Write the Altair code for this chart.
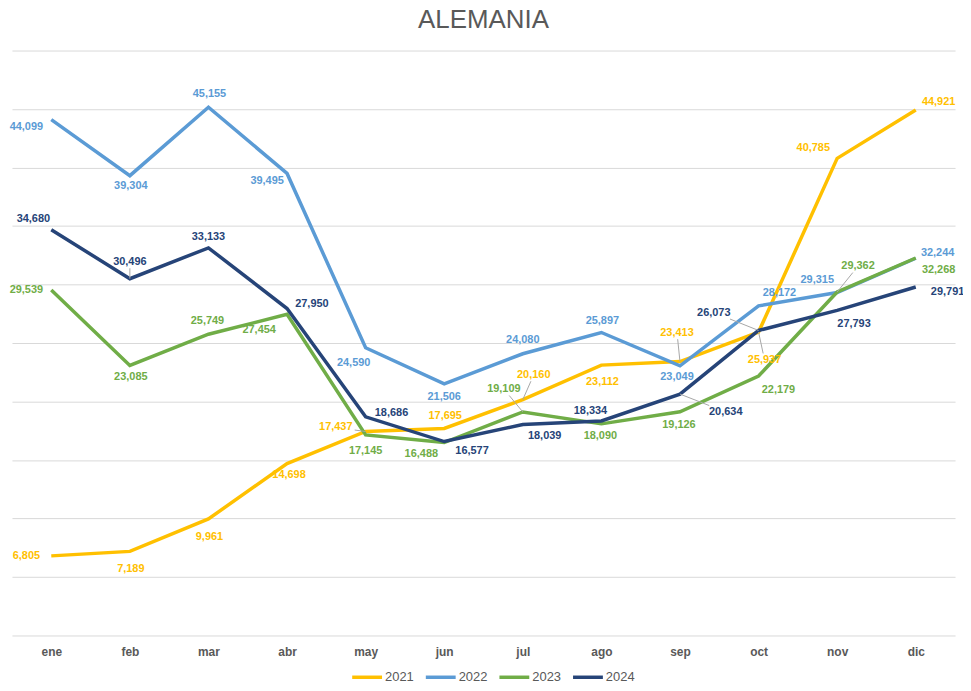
import altair as alt
import pandas as pd

months = ["ene", "feb", "mar", "abr", "may", "jun", "jul", "ago", "sep", "oct", "nov", "dic"]
years = ["2021", "2022", "2023", "2024"]
colors = ["#FFC000", "#5B9BD5", "#70AD47", "#264478"]

v2021 = [6805, 7189, 9961, 14698, 17437, 17695, 20160, 23112, 23413, 25937, 40785, 44921]
v2022 = [44099, 39304, 45155, 39495, 24590, 21506, 24080, 25897, 23049, 28172, 29315, 32244]
v2023 = [29539, 23085, 25749, 27454, 17145, 16488, 19109, 18090, 19126, 22179, 29362, 32268]
v2024 = [34680, 30496, 33133, 27950, 18686, 16577, 18039, 18334, 20634, 26073, 27793, 29791]

# label placement offsets (pixels) for the data labels
dx2021 = [-25, 1, 1, 2, -30, 1, 11, 1, -3, 6, -24, 23]
dy2021 = [0, 18, 18, 12, -4, -13, -25, 17, -29, 28, -10, -8]
dx2022 = [-25, 1, 1, -20, -12, 0, 0, 1, -3, 21, -20, 22]
dy2022 = [7, 10, -13, 8, 15, 13, -14, -12, 11, -13, -13, -5]
dx2023 = [-25, 1, -1, -28, 0, -23, -19, -1, -1, 20, 21, 23]
dy2023 = [0, 12, -13, 16, 16, 11, -23, 12, 13, 14, -26, 12]
dx2024 = [-18, 0, 0, 25, 26, 28, 22, -11, 46, -45, 17, 32]
dy2024 = [-11, -17, -11, -5, -4, 10, 12, -10, 18, -18, 14, 5]

# which labels have a leader line (month names)
leaders = {"2021": ["may", "jul", "sep", "oct"], "2022": [],
           "2023": ["jul", "nov"], "2024": ["feb", "sep", "oct"]}

series = {"2021": v2021, "2022": v2022, "2023": v2023, "2024": v2024}
dxs = {"2021": dx2021, "2022": dx2022, "2023": dx2023, "2024": dx2024}
dys = {"2021": dy2021, "2022": dy2022, "2023": dy2023, "2024": dy2024}

rows = []
lead_rows = []
for y in years:
    for i, m in enumerate(months):
        dx, dy = dxs[y][i], dys[y][i]
        rows.append({"mes": m, "year": y, "valor": series[y][i], "dx": dx, "dy": dy})
        if m in leaders[y]:
            hw, hh = 19.0, 6.5
            t = min(hw / abs(dx) if dx else 1e9, hh / abs(dy) if dy else 1e9)
            k = max(0.0, 1 - t)
            key = y + m
            lead_rows.append({"mes": m, "key": key, "valor": series[y][i], "ox": 0.0, "oy": 0.0})
            lead_rows.append({"mes": m, "key": key, "valor": series[y][i],
                              "ox": dx * k, "oy": dy * k})
df = pd.DataFrame(rows)
dl = pd.DataFrame(lead_rows)

font = "Liberation Sans"
H = 588
YMAX = 50000

x_scale = alt.Scale(type="point", padding=0.5)
y_scale = alt.Scale(domain=[0, YMAX], nice=False)

x_axis = alt.Axis(title=None, labelAngle=0, ticks=False, domain=False,
                  labelFont=font, labelFontSize=12, labelFontWeight="bold",
                  labelColor="#595959", labelPadding=11, grid=False)
x_enc = alt.X("mes:N", sort=months, scale=x_scale, axis=x_axis)
y_enc = alt.Y("valor:Q", scale=y_scale,
              axis=alt.Axis(title=None, labels=False, ticks=False, domain=False,
                            values=list(range(0, YMAX + 1, 5000)),
                            gridColor="#D9D9D9", gridWidth=1))
color_enc = alt.Color("year:N", scale=alt.Scale(domain=years, range=colors),
                      legend=alt.Legend(title=None, orient="none", direction="horizontal",
                                        legendX=340, legendY=613,
                                        symbolType="stroke", symbolSize=900,
                                        symbolStrokeWidth=3.5, labelFont=font,
                                        labelFontSize=13, labelColor="#595959",
                                        columnPadding=5, labelOffset=1))

lines = alt.Chart(df).mark_line(strokeWidth=3.5).encode(
    x=x_enc, y=y_enc, color=color_enc, detail="year:N")

leader_lines = alt.Chart(dl).transform_calculate(
    ly=f"datum.valor - datum.oy * {YMAX} / {H}"
).mark_line(color="#A6A6A6", strokeWidth=1).encode(
    x=alt.X("mes:N", sort=months, scale=x_scale, axis=x_axis),
    y=alt.Y("ly:Q", scale=y_scale),
    xOffset=alt.XOffset("ox:Q", scale=None),
    detail="key:N",
)

labels = alt.Chart(df).transform_calculate(
    ly=f"datum.valor - datum.dy * {YMAX} / {H}"
).mark_text(font=font, fontSize=11, fontWeight="bold",
            align="center", baseline="middle").encode(
    x=alt.X("mes:N", sort=months, scale=x_scale, axis=x_axis),
    y=alt.Y("ly:Q", scale=y_scale),
    xOffset=alt.XOffset("dx:Q", scale=None),
    text=alt.Text("valor:Q", format=",d"),
    color=alt.Color("year:N", scale=alt.Scale(domain=years, range=colors), legend=None),
)

chart = alt.layer(lines, leader_lines, labels).properties(
    width=948, height=H,
    autosize=alt.AutoSizeParams(type="none"),
    padding={"left": 4, "top": 41, "right": 8, "bottom": 46},
    title=alt.TitleParams("ALEMANIA", font=font, fontSize=26, fontWeight="normal",
                          color="#595959", anchor="middle", offset=18),
).configure_view(stroke=None)

chart.save("out.html", embed_options={"renderer": "svg", "actions": False})
